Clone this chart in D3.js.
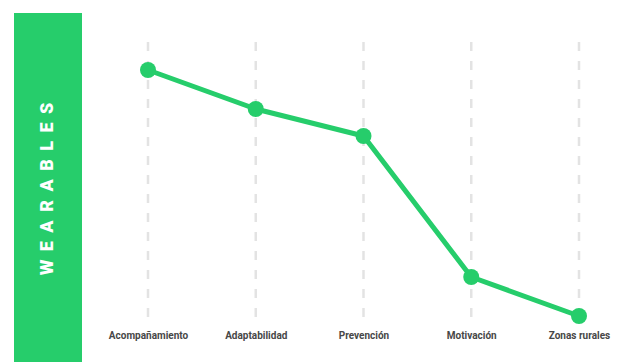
<!DOCTYPE html>
<html>
<head>
<meta charset="utf-8">
<script src="https://cdn.jsdelivr.net/npm/d3@7"></script>
<style>
  html, body { margin: 0; padding: 0; background: #fff; }
  svg { display: block; }
</style>
</head>
<body>
<svg id="chart" width="617" height="362"></svg>
<script>
// Categories and their scores (0–100)
const categories = ["Acompañamiento", "Adaptabilidad", "Prevención", "Motivación", "Zonas rurales"];
const values = [90, 77, 68, 21, 8];
const title = "WEARABLES";

const green = "#26cd6b";
const svg = d3.select("#chart");
const W = 617, H = 362;

// Side band with the vertical title
svg.append("rect")
  .attr("x", 14).attr("y", 13)
  .attr("width", 68).attr("height", H - 13)
  .attr("fill", green);

const spacing = 8.5;
svg.append("text")
  .attr("transform", `translate(46.5,${189 - spacing / 2}) rotate(-90)`)
  .attr("text-anchor", "middle")
  .attr("dominant-baseline", "central")
  .attr("fill", "#fff")
  .attr("font-family", "Roboto, 'Open Sans', sans-serif")
  .attr("font-weight", 900)
  .attr("font-size", 18)
  .attr("letter-spacing", spacing)
  .text(title);

// Scales
const x = d3.scalePoint().domain(categories).range([148, 579]);
const y = d3.scaleLinear().domain([0, 100]).range([340, 40]);

// Dashed vertical guides
svg.append("g").selectAll("line")
  .data(categories)
  .join("line")
  .attr("x1", d => x(d)).attr("x2", d => x(d))
  .attr("y1", 42).attr("y2", 318)
  .attr("stroke", "#e3e3e3")
  .attr("stroke-width", 2.5)
  .attr("stroke-dasharray", "9,10");

// Category labels via a bottom axis
const axis = svg.append("g")
  .attr("transform", "translate(0,332)")
  .call(d3.axisBottom(x).tickSize(0).tickPadding(0));
axis.select(".domain").remove();
axis.selectAll("text")
  .attr("fill", "#474747")
  .attr("font-family", "Roboto, sans-serif")
  .attr("font-weight", 700)
  .attr("font-size", 10);

// Line and markers
const data = categories.map((c, i) => ({ c, v: values[i] }));
svg.append("path")
  .datum(data)
  .attr("fill", "none")
  .attr("stroke", green)
  .attr("stroke-width", 5)
  .attr("stroke-linejoin", "round")
  .attr("d", d3.line().x(d => x(d.c)).y(d => y(d.v)));

svg.append("g").selectAll("circle")
  .data(data)
  .join("circle")
  .attr("cx", d => x(d.c))
  .attr("cy", d => y(d.v))
  .attr("r", 8)
  .attr("fill", green);
</script>
</body>
</html>
